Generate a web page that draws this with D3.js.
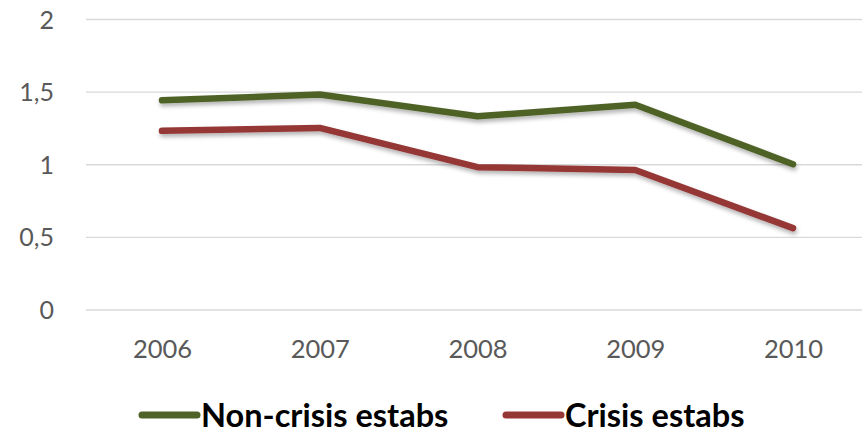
<!DOCTYPE html>
<html>
<head>
<meta charset="utf-8">
<script src="https://cdn.jsdelivr.net/npm/d3@7"></script>
<style>
  html, body { margin: 0; padding: 0; background: #fff; }
  svg { display: block; }
  text { font-family: Lato, "Open Sans", sans-serif; }
</style>
</head>
<body>
<svg id="chart" width="862" height="433"></svg>
<script>
// Years on the horizontal axis
const years = ["2006", "2007", "2008", "2009", "2010"];
// Series values
const nonCrisis = [1.44, 1.48, 1.33, 1.41, 1.00];
const crisis    = [1.23, 1.25, 0.98, 0.96, 0.56];
const seriesNames = ["Non-crisis estabs", "Crisis estabs"];
const seriesColors = ["#4f6228", "#953735"];
// Value axis ticks
const yTicks = [0, 0.5, 1, 1.5, 2];
const yTickLabels = ["0", "0,5", "1", "1,5", "2"];

const svg = d3.select("#chart");
const W = 862, H = 433;

const x = d3.scalePoint().domain(years).range([162, 793]);
const y = d3.scaleLinear().domain([0, 2]).range([309.5, 19]);

// soft drop shadow under the lines
const defs = svg.append("defs");
const f = defs.append("filter").attr("id", "shadow")
  .attr("x", "-5%").attr("y", "-20%").attr("width", "110%").attr("height", "150%");
f.append("feDropShadow").attr("dx", 1).attr("dy", 3)
  .attr("stdDeviation", 2).attr("flood-color", "#000").attr("flood-opacity", 0.3);

// gridlines
const yAxis = d3.axisLeft(y).tickValues(yTicks)
  .tickSize(-(W - 86)).tickFormat((d, i) => yTickLabels[i]);
const gy = svg.append("g").attr("transform", "translate(86,0)").call(yAxis);
gy.select(".domain").remove();
gy.selectAll(".tick line").attr("stroke", "#d9d9d9").attr("stroke-width", 1.3);
gy.selectAll(".tick text")
  .attr("x", -32).attr("dy", "0.36em")
  .attr("fill", "#595959").style("font-size", "25px").attr("text-anchor", "end");

// category axis labels
const xAxis = d3.axisBottom(x).tickSize(0).tickPadding(0);
const gx = svg.append("g").attr("transform", "translate(0,358)").call(xAxis);
gx.select(".domain").remove();
gx.selectAll(".tick text")
  .attr("y", 0).attr("dy", 0)
  .attr("fill", "#595959").style("font-size", "25.5px");

// lines
const line = d3.line().x((d, i) => x(years[i])).y(d => y(d));
[nonCrisis, crisis].forEach((vals, k) => {
  svg.append("path")
    .datum(vals)
    .attr("d", line)
    .attr("fill", "none")
    .attr("stroke", seriesColors[k])
    .attr("stroke-width", 6.5)
    .attr("stroke-linecap", "round")
    .attr("stroke-linejoin", "round")
    .attr("filter", "url(#shadow)");
});

// legend
const legendX = [142, 506];
seriesNames.forEach((name, k) => {
  const g = svg.append("g").attr("transform", `translate(${legendX[k]},415)`);
  g.append("line").attr("x1", 0).attr("x2", 55).attr("y1", 0).attr("y2", 0)
    .attr("stroke", seriesColors[k]).attr("stroke-width", 7)
    .attr("stroke-linecap", "round");
  g.append("text").attr("x", 59).attr("y", 12)
    .attr("fill", "#000").style("font-size", "32.5px").style("font-weight", "bold")
    .text(name);
});
</script>
</body>
</html>
